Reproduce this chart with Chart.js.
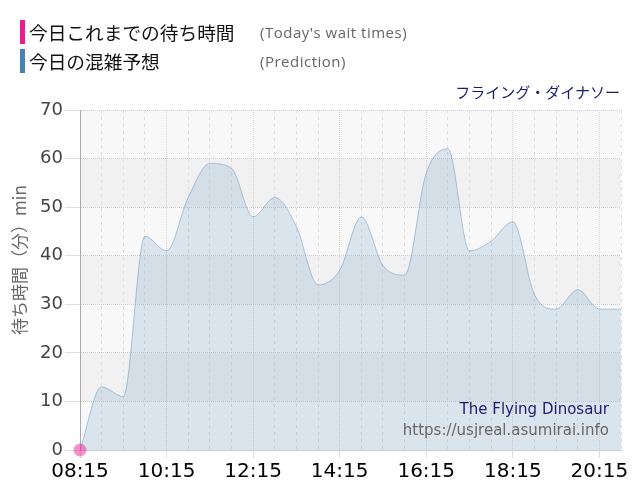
<!DOCTYPE html>
<html>
<head>
<meta charset="utf-8">
<script src="https://cdn.jsdelivr.net/npm/chart.js@4/dist/chart.umd.min.js"></script>
<style>
  body { margin: 0; background: #fff; font-family: 'Noto Sans CJK JP', 'DejaVu Sans', sans-serif; }
  #wrap { position: relative; width: 640px; height: 500px; }
  #chart { position: absolute; left: 0; top: 0; }
  .row { position: absolute; left: 20px; height: 24px; }
  .bar { position: absolute; left: 0; top: 0; width: 5px; height: 24px; }
  .jp { position: absolute; left: 9px; top: -1px; font-size: 18.7px; color: #111; white-space: nowrap; line-height: 26px; }
  .en { position: absolute; left: 240px; top: 2px; font-family: 'Open Sans', sans-serif; font-size: 15px; letter-spacing: 0.5px; color: #666; white-space: nowrap; line-height: 20px; }
  #ride { position: absolute; right: 20px; top: 81px; font-size: 15px; color: #1c1c6e; white-space: nowrap; }
  #mark { position: absolute; right: 31px; top: 399px; text-align: right; font-family: 'DejaVu Sans', sans-serif; font-size: 15px; line-height: 21px; white-space: nowrap; }
  #mark .t { color: #1c1c6e; }
  #mark .u { color: #666; }
</style>
</head>
<body>
<div id="wrap">
  <canvas id="chart" width="640" height="500"></canvas>
  <div class="row" style="top:20px"><div class="bar" style="background:#f0198c"></div><div class="jp">今日これまでの待ち時間</div><div class="en">(Today's wait times)</div></div>
  <div class="row" style="top:49px"><div class="bar" style="background:#4682b4"></div><div class="jp">今日の混雑予想</div><div class="en">(Prediction)</div></div>
  <div id="ride">フライング・ダイナソー</div>
  <div id="mark"><div class="t">The Flying Dinosaur</div><div class="u">https://usjreal.asumirai.info</div></div>
</div>
<script>
// time slots every 30 minutes
const times = ['08:15', '08:45', '09:15', '09:45', '10:15', '10:45', '11:15', '11:45',
  '12:15', '12:45', '13:15', '13:45', '14:15', '14:45', '15:15', '15:45',
  '16:15', '16:45', '17:15', '17:45', '18:15', '18:45', '19:15', '19:45',
  '20:15', '20:45']
// prediction (minutes)
const prediction = [0, 13, 11, 44, 41, 52, 59, 58, 48, 52, 46, 34, 37, 48, 38, 36,
  57, 62, 41, 43, 47, 32, 29, 33, 29, 29]
// actual waits so far today
const actual = [0]
// which x labels get shown
const shownTimes = ['08:15', '10:15', '12:15', '14:15', '16:15', '18:15', '20:15']
const yTicks = [0, 10, 20, 30, 40, 50, 60, 70]
const yTitle = '待ち時間（分）min'

// alternating grey bands behind the plot
const bands = {
  id: 'bands',
  beforeDraw(chart) {
    const { ctx, chartArea, scales } = chart
    const y = scales.y
    ctx.save()
    for (let i = 0; i < yTicks.length - 1; i++) {
      const top = y.getPixelForValue(yTicks[i + 1])
      const bottom = y.getPixelForValue(yTicks[i])
      ctx.fillStyle = i % 2 === 0 ? '#f8f8f8' : '#f1f1f1'
      ctx.fillRect(chartArea.left, top, chartArea.right - chartArea.left, bottom - top)
    }
    ctx.restore()
  }
}

// y axis title, sits a bit above the middle of the plot
const sideTitle = {
  id: 'sideTitle',
  afterDraw(chart) {
    const { ctx, chartArea } = chart
    ctx.save()
    ctx.translate(20, (chartArea.top + chartArea.bottom) / 2 - 20)
    ctx.rotate(-Math.PI / 2)
    ctx.font = "17px 'Noto Sans CJK JP'"
    ctx.fillStyle = '#666'
    ctx.textAlign = 'center'
    ctx.textBaseline = 'middle'
    ctx.fillText(yTitle, 0, 0)
    ctx.restore()
  }
}

const isShown = (i) => shownTimes.includes(times[i])

const ctx = document.getElementById('chart').getContext('2d')
new Chart(ctx, {
  type: 'line',
  data: {
    labels: times,
    datasets: [{
      label: '今日これまでの待ち時間',
      data: actual,
      showLine: false,
      clip: false,
      pointRadius: 6.5,
      pointBackgroundColor: 'rgba(240, 40, 150, 0.5)',
      pointBorderWidth: 0
    }, {
      label: '今日の混雑予想',
      data: prediction,
      borderColor: 'rgba(70, 130, 180, 0.4)',
      borderWidth: 1,
      backgroundColor: 'rgba(70, 130, 180, 0.17)',
      fill: 'origin',
      pointRadius: 0,
      cubicInterpolationMode: 'monotone'
    }]
  },
  options: {
    responsive: false,
    animation: false,
    layout: { padding: { top: 110, right: 19, left: 0, bottom: 0 } },
    plugins: { legend: { display: false }, tooltip: { enabled: false } },
    scales: {
      x: {
        offset: false,
        afterFit(scale) { scale.height = 50 },
        grid: {
          color: (c) => c.index === 0 ? 'rgba(0,0,0,0)' : (isShown(c.index) ? '#d4d4d4' : '#dedede'),
          tickLength: 8,
          tickColor: (c) => isShown(c.index) ? '#dddddd' : 'rgba(0,0,0,0)',
          tickBorderDash: []
        },
        border: {
          color: '#cccccc',
          dash: (c) => isShown(c.index) ? [1, 1] : [3, 4]
        },
        ticks: {
          autoSkip: false,
          maxRotation: 0,
          padding: 2,
          color: '#000',
          font: { family: 'DejaVu Sans', size: 20 },
          callback: (v, i) => isShown(i) ? times[i] : ''
        }
      },
      y: {
        min: 0,
        max: 70,
        afterFit(scale) { scale.width = 80 },
        ticks: {
          stepSize: 10,
          padding: 2,
          color: '#444',
          font: { family: 'DejaVu Sans', size: 18 }
        },
        grid: {
          color: '#cfcfcf',
          tickLength: 15,
          tickColor: '#dddddd',
          tickBorderDash: []
        },
        border: { color: '#aaaaaa', dash: [1, 1] },
        title: { display: false }
      }
    }
  },
  plugins: [bands, sideTitle]
})
</script>
</body>
</html>
